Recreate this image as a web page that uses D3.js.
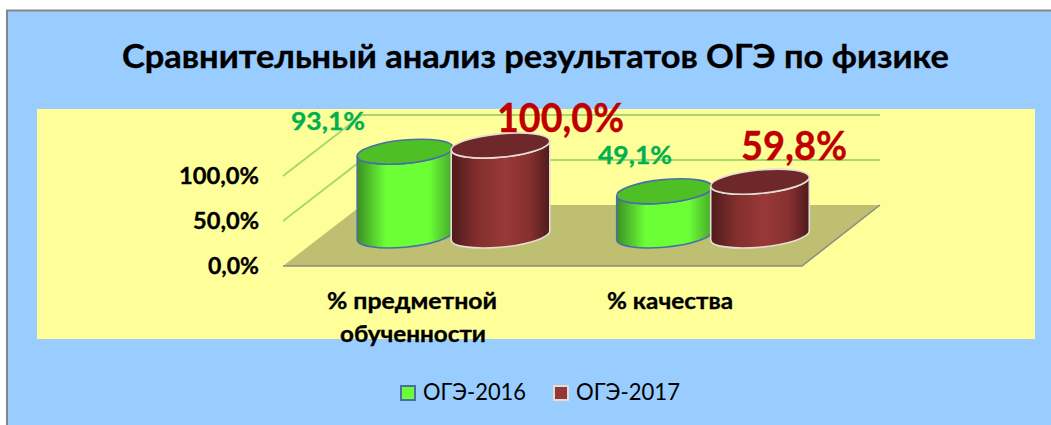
<!DOCTYPE html>
<html><head><meta charset="utf-8">
<style>html,body{margin:0;padding:0;background:#fff}svg{display:block}text{font-family:Lato,"Open Sans",sans-serif}</style>
<script src="https://cdn.jsdelivr.net/npm/d3@7/dist/d3.min.js"></script>
</head><body><svg id="c" width="1051" height="425"></svg>
<script>
const title = "Сравнительный анализ результатов ОГЭ по физике";
const categories = ["% предметной обученности", "% качества"];
const categoryLines = [["% предметной","обученности"],["% качества"]];
const seriesNames = ["ОГЭ-2016","ОГЭ-2017"];
const values2016 = [93.1, 49.1];
const values2017 = [100.0, 59.8];
const labels2016 = ["93,1%","49,1%"];
const labels2017 = ["100,0%","59,8%"];
const yTicks = [0,50,100];
const yTickLabels = ["0,0%","50,0%","100,0%"];

const svg = d3.select("#c");
const defs = svg.append("defs");
function grad(id, stops){
  const g = defs.append("linearGradient").attr("id",id);
  stops.forEach(s=>g.append("stop").attr("offset",s[0]).attr("stop-color",s[1]));
}
grad("gGreen",[[0,"#3c8f24"],[.3,"#6cff36"],[.75,"#6cff36"],[1,"#45a82a"]]);
grad("gRed",[[0,"#4e1b1b"],[.28,"#85302f"],[.55,"#983937"],[.8,"#85302f"],[1,"#4e1b1b"]]);

// background
svg.append("rect").attr("x",7).attr("y",10.5).attr("width",1060).attr("height",430).attr("fill","#99ccff").attr("stroke","#868686").attr("stroke-width",2);
svg.append("rect").attr("x",37).attr("y",109).attr("width",998).attr("height",230).attr("fill","#ffff99");

// scales
const floorFront = 266, depthX = 79, depthY = -61, floorL = 283, floorR = 802;
const y = d3.scaleLinear().domain([0,100]).range([floorFront, floorFront-90]);
const x0 = d3.scaleBand().domain(categories).range([floorL, floorR]).padding(0);
const x1 = d3.scaleBand().domain(seriesNames).range([-95.5, 95.5]);
const cx = (cat, s) => x0(cat) + x0.bandwidth()/2 + 40 + x1(s) + x1.bandwidth()/2;
const baseY = 235.5;
const h = d3.scaleLinear().domain([0,100]).range([0,y(0)-y(100)]);

// floor
svg.append("path").attr("d",d3.line()([[floorL,floorFront],[floorR,floorFront],[floorR+depthX-1,floorFront+depthY],[floorL+depthX,floorFront+depthY]])+"Z").attr("fill","#bfbf71");
svg.append("path").attr("d",d3.line()([[floorL,floorFront],[floorR,floorFront],[floorR+depthX-1,floorFront+depthY]])).attr("fill","none").attr("stroke","#8a8a8a").attr("stroke-width",1.5);
// gridlines
yTicks.filter(t=>t>0).forEach(t=>{
  svg.append("path").attr("d",d3.line()([[floorL,y(t)],[floorL+depthX,y(t)+depthY],[floorR+depthX-1,y(t)+depthY]]))
    .attr("fill","none").attr("stroke","#a3d86e").attr("stroke-width",1.8);
});

// cylinders
const theta=-5.4*Math.PI/180, b=11.7;
function cyl(c, v, a, fill, top, stroke){
  const xm=Math.sqrt(a*a*Math.cos(theta)**2+b*b*Math.sin(theta)**2);
  const dy=(a*a-b*b)*Math.sin(theta)*Math.cos(theta)/xm;
  const H=h(v), ty=baseY-H, deg=theta*180/Math.PI;
  const g=svg.append("g");
  g.append("path").attr("d",
    `M${c-xm},${ty-dy} L${c-xm},${baseY-dy} A${a},${b} ${deg} 0 0 ${c+xm},${baseY+dy} L${c+xm},${ty+dy} A${a},${b} ${deg} 0 1 ${c-xm},${ty-dy} Z`)
    .attr("fill",fill).attr("stroke",stroke).attr("stroke-width",1.6);
  g.append("ellipse").attr("cx",c).attr("cy",ty).attr("rx",a).attr("ry",b)
    .attr("transform",`rotate(${deg} ${c} ${ty})`).attr("fill",top).attr("stroke",stroke).attr("stroke-width",1.6);
}
categories.forEach((cat,i)=>{
  cyl(cx(cat,seriesNames[0]),values2016[i],48,"url(#gGreen)","#4fbf26","#4a6fa8");
});
categories.forEach((cat,i)=>{
  cyl(cx(cat,seriesNames[1]),values2017[i],49.5,"url(#gRed)","#6e2829","#e6ddd6");
});

function T(s,x,y,size,w,anchor,fill,weight){
  const col=fill||"#000", wt=weight||700;
  return svg.append("text").attr("x",x).attr("y",y).attr("font-size",size).attr("font-weight",wt)
    .attr("text-anchor",anchor||"middle").attr("fill",col)
    .attr("stroke",wt===700?col:"none").attr("stroke-width",wt===700?0.35:0)
    .attr("textLength",w).attr("lengthAdjust","spacingAndGlyphs").text(s);
}
T(title,535.5,68,32,827);
// y axis labels
yTickLabels.forEach((s,i)=>{
  const w=[51,66,80][i];
  T(s,259,y(yTicks[i])+8,23,w,"end");
});
// category labels
T(categoryLines[0][0],412,309,23,170);
T(categoryLines[0][1],413,342,23,146);
T(categoryLines[1][0],670,309,23,126);
// data labels
const dl = [[labels2016[0],328,130,25,74,"#00b050"],[labels2017[0],560.5,132,41,127,"#c00000"],
            [labels2016[1],635,164,25,74,"#00b050"],[labels2017[1],794,160,41,106,"#c00000"]];
dl.forEach(d=>T(d[0],d[1],d[2],d[3],d[4],"middle",d[5]));
// legend
const legend=[[400,"#6cff36","#4a6fa8",423],[553,"#953735","#e6ddd6",576]];
seriesNames.forEach((s,i)=>{
  const l=legend[i];
  svg.append("rect").attr("x",l[0]+1).attr("y",386).attr("width",14).attr("height",14).attr("fill",l[1]).attr("stroke",l[2]).attr("stroke-width",2);
  T(s,l[3],400,23,i?104:103,"start","#000",400);
});
</script></body></html>
